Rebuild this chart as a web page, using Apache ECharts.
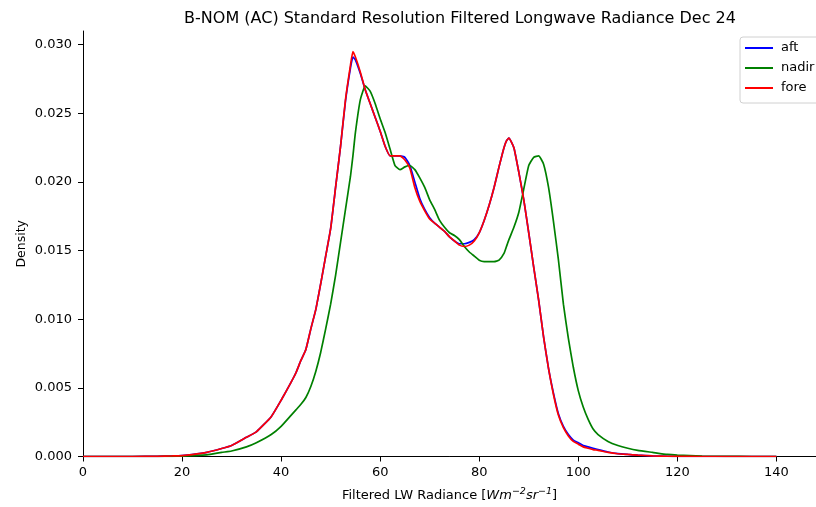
<!DOCTYPE html>
<html>
<head>
<meta charset="utf-8">
<script src="https://cdn.jsdelivr.net/npm/echarts@6/dist/echarts.min.js"></script>
<style>
html,body{margin:0;padding:0;background:#fff;}
#chart{width:816px;height:507px;}
</style>
</head>
<body>
<div id="chart"></div>
<script>
// Radiance grid (x values)
const radiance = [
  0,5,10,15,18,20,22,25,28,30,
  33,35,38,40,42,43,44,45,46,47,
  48,49,50,51,52,53,54,54.5,55,56,
  57,58,59,60,61,62,63,64,65,66,
  67,68,69,70,71,72,73,74,75,76,
  77,78,79,80,81,82,83,84,85,85.5,
  86,87,88,89,90,91,92,93,94,95,
  96,97,98,99,100,101,102,103,104,106,
  108,110,112,115,118,120,125,130,135,140
];

const aft = [
  0,0,0,0.00001,0.00004,0.00007,0.00014,0.0003,0.00058,0.0008,
  0.0014,0.0018,0.0029,0.0041,0.0054,0.0061,0.0070,0.0078,0.0093,0.0107,
  0.0126,0.0146,0.0166,0.0196,0.0226,0.0259,0.0283,0.0291,0.0289,0.0279,
  0.0267,0.0257,0.0247,0.0237,0.0226,0.0219,0.0219,0.0219,0.0218,0.0212,
  0.0200,0.0188,0.0180,0.0174,0.0170,0.0167,0.0164,0.0160,0.0157,0.0155,
  0.0155,0.0156,0.0158,0.0163,0.0172,0.0183,0.0196,0.0211,0.0225,0.0230,
  0.0232,0.0225,0.0207,0.0187,0.0163,0.0138,0.0114,0.0087,0.0064,0.0046,
  0.0031,0.0022,0.0016,0.0012,0.0010,0.0008,0.0007,0.0006,0.0005,0.00033,
  0.00021,0.00015,0.0001,0.00005,0.00002,0.00001,0,0,0,0
];

const nadir = [
  0,0,0,0,0.00001,0.00003,0.00006,0.00012,0.0003,0.0004,
  0.0007,0.001,0.0016,0.0022,0.0030,0.0034,0.0038,0.0043,0.0051,0.0062,
  0.0076,0.0093,0.0111,0.0132,0.0156,0.0180,0.0204,0.0219,0.0236,0.0260,
  0.0270,0.0266,0.0257,0.0246,0.0236,0.0224,0.0212,0.0209,0.0211,0.0212,
  0.0209,0.0203,0.0196,0.0187,0.0180,0.0172,0.0167,0.0163,0.0161,0.0158,
  0.0153,0.0149,0.0146,0.0143,0.0142,0.0142,0.0142,0.0143,0.0148,0.0153,
  0.0158,0.0167,0.0178,0.0195,0.0212,0.0218,0.0219,0.0213,0.0196,0.0171,
  0.0143,0.0111,0.0086,0.0065,0.0048,0.0036,0.0027,0.0020,0.0016,0.0011,
  0.0008,0.0006,0.00045,0.0003,0.00015,0.0001,0.00003,0.00001,0,0
];

const fore = [
  0,0,0,0.00001,0.00004,0.00007,0.00014,0.0003,0.00058,0.0008,
  0.0014,0.0018,0.0029,0.0041,0.0054,0.0061,0.0070,0.0078,0.0093,0.0107,
  0.0126,0.0146,0.0166,0.0196,0.0226,0.0260,0.0285,0.0295,0.0291,0.0280,
  0.0267,0.0257,0.0247,0.0237,0.0226,0.0219,0.0219,0.0219,0.0216,0.0210,
  0.0196,0.0186,0.0179,0.0173,0.0170,0.0167,0.0164,0.0160,0.0157,0.0154,
  0.0153,0.0154,0.0157,0.0163,0.0172,0.0183,0.0196,0.0211,0.0225,0.0230,
  0.0232,0.0225,0.0207,0.0187,0.0163,0.0138,0.0114,0.0087,0.0064,0.0045,
  0.0030,0.0021,0.0015,0.0011,0.0009,0.0007,0.0006,0.0005,0.00045,0.0003,
  0.0002,0.00015,0.0001,0.00005,0.00002,0.00001,0,0,0,0
];

const seriesNames = ['aft','nadir','fore'];
const seriesColors = ['#0000ff','#008000','#ff0000'];
const titleText = 'B-NOM (AC) Standard Resolution Filtered Longwave Radiance Dec 24';

function pairs(ys){ return radiance.map((x,i)=>[x, ys[i]]); }
const allValues = [aft, nadir, fore];

const font = 'DejaVu Sans';
const chart = echarts.init(document.getElementById('chart'), null, {renderer:'canvas'});
chart.setOption({
  animation: false,
  backgroundColor: '#fff',
  title: {
    text: titleText, left: 455, top: 6, textAlign: 'center',
    textStyle: {fontFamily: font, fontSize: 16, fontWeight: 'normal', color: '#000'}
  },
  legend: {
    orient: 'vertical', left: 740, top: 37,
    data: seriesNames,
    icon: 'rect', itemWidth: 28, itemHeight: 2, itemGap: 6,
    backgroundColor: '#fff', borderColor: '#d0d0d0', borderWidth: 1, borderRadius: 3,
    padding: [4, 8, 8, 5],
    textStyle: {fontFamily: font, fontSize: 13, lineHeight: 14, color: '#000', padding: [0, 0, 0, 3]}
  },
  grid: {left: 83, right: 0, top: 31, bottom: 47, containLabel: false},
  xAxis: [{
    type: 'value', min: 0, max: 148, interval: 20,
    name: '{a|Filtered LW Radiance [}{i|Wm}{s|−2}{i|sr}{s|−1}{a|]}',
    nameLocation: 'middle', nameGap: 30,
    nameTextStyle: {
      fontFamily: font, fontSize: 13, color: '#000',
      rich: {
        a: {fontFamily: font, fontSize: 13, color: '#000', lineHeight: 18},
        i: {fontFamily: font, fontSize: 13, fontStyle: 'italic', color: '#000', lineHeight: 18},
        s: {fontFamily: font, fontSize: 9.5, fontStyle: 'italic', color: '#000', verticalAlign: 'top', lineHeight: 12}
      }
    },
    axisLine: {show: true, onZero: false, lineStyle: {color: '#000', width: 1}},
    axisTick: {show: true, length: 5, lineStyle: {color: '#000'}},
    axisLabel: {fontFamily: font, fontSize: 13, color: '#000', margin: 10, showMaxLabel: false,
      formatter: v => (v % 20 === 0 ? String(v) : '')},
    splitLine: {show: false}
  }, {
    type: 'value', position: 'top', min: 0, max: 148,
    axisLine: {show: true, lineStyle: {color: '#000', width: 1}},
    axisTick: {show: false}, axisLabel: {show: false}, splitLine: {show: false}
  }],
  yAxis: {
    type: 'value', min: 0, max: 0.031, interval: 0.005,
    name: 'Density', nameLocation: 'middle', nameGap: 55, nameRotate: 90,
    nameMoveOverlap: false,
    nameTextStyle: {fontFamily: font, fontSize: 12.5, color: '#000'},
    axisLine: {show: true, lineStyle: {color: '#000', width: 1}},
    axisTick: {show: true, length: 5, lineStyle: {color: '#000'}},
    axisLabel: {fontFamily: font, fontSize: 13, color: '#000', margin: 11, showMaxLabel: false,
      formatter: v => (Math.abs(Math.round(v / 0.005) * 0.005 - v) < 1e-9 ? v.toFixed(3) : '')},
    splitLine: {show: false}
  },
  series: seriesNames.map((n, k) => ({
    name: n, type: 'line', xAxisIndex: 0, data: pairs(allValues[k]),
    showSymbol: false, symbol: 'none', smooth: 0.15,
    lineStyle: {color: seriesColors[k], width: 1.7},
    itemStyle: {color: seriesColors[k]}
  }))
});
</script>
</body>
</html>
